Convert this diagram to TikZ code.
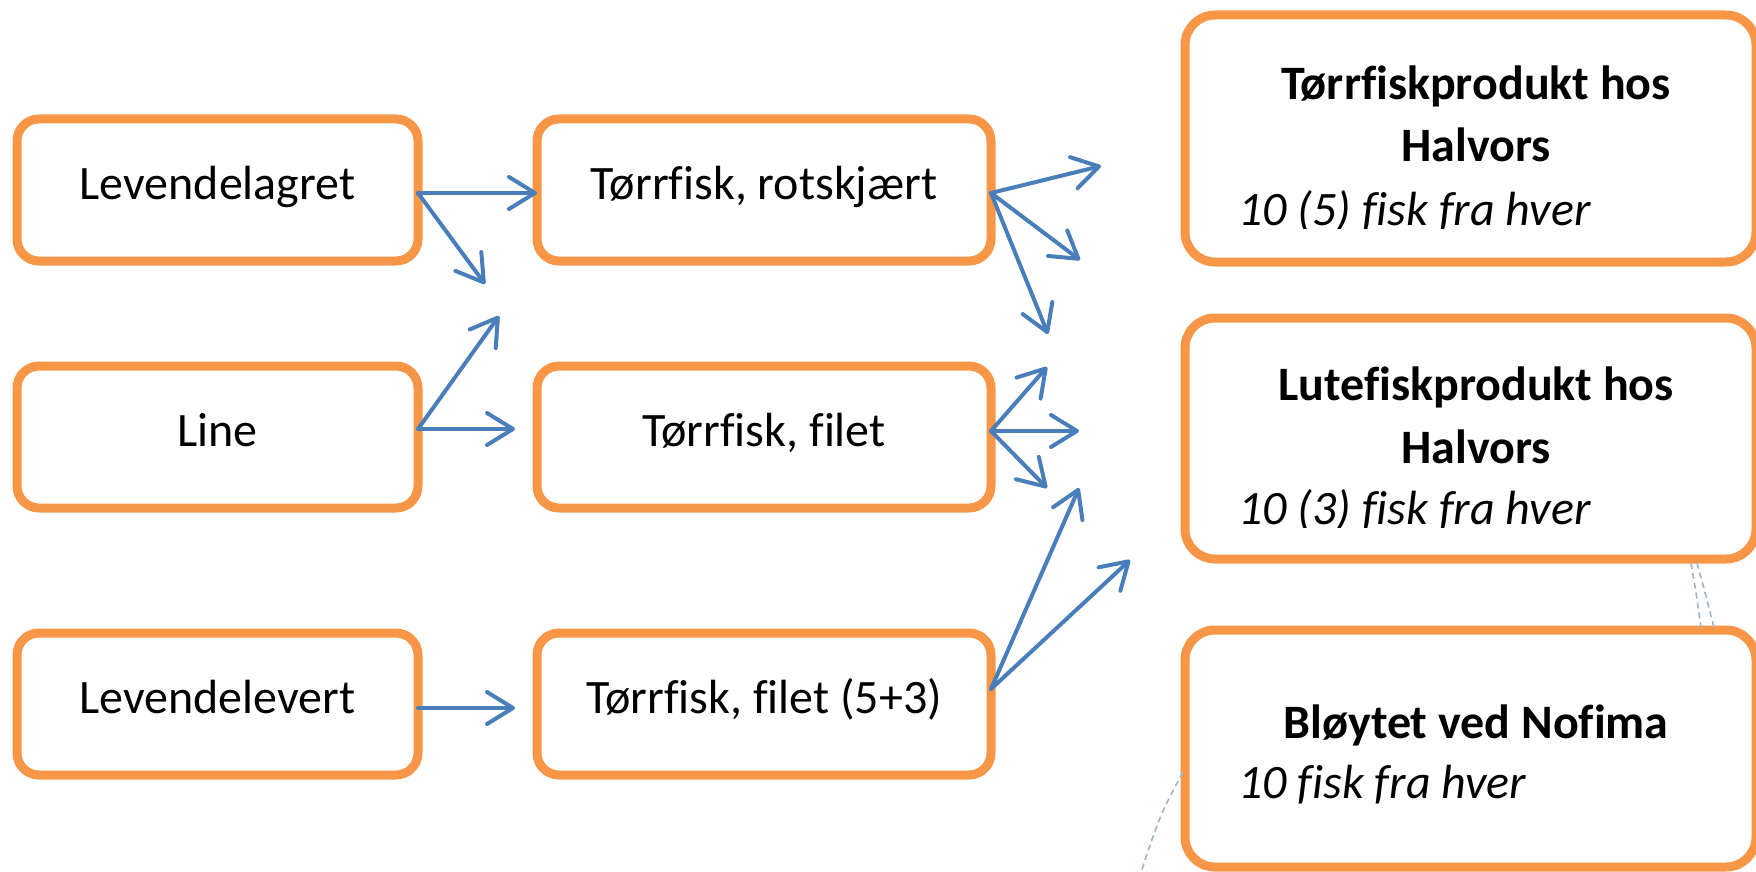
\documentclass[tikz,border=0pt]{standalone}
\usepackage{fontspec}
\setmainfont{Carlito}[Ligatures=NoCommon]
\usepackage{tikz}
\usetikzlibrary{arrows.meta}
\definecolor{boxorange}{HTML}{F79646}
\definecolor{arrblue}{HTML}{4A7EBB}
\definecolor{ghostgrey}{HTML}{9DB3C6}

\begin{document}
\begin{tikzpicture}[x=0.5pt,y=-0.5pt,line join=round,
  box/.style={draw=boxorange,fill=white,line width=4.5pt,rounded corners=11pt,outer sep=0pt,inner sep=0pt,font=\fontsize{24}{31}\selectfont},
  small/.style={box,text height=15pt,text depth=6pt,minimum width=200.5pt,minimum height=71pt},
  mid/.style={box,text height=15pt,text depth=6pt,minimum width=227pt,minimum height=71pt},
  big/.style={box,rounded corners=15pt,minimum width=285.5pt},
  head/.style={anchor=base,inner sep=0pt,font=\fontsize{24}{31}\selectfont\bfseries},
  note/.style={anchor=base west,inner sep=0pt,font=\fontsize{24}{31}\selectfont\itshape},
  arr/.style={draw=arrblue,line width=2pt,line cap=round,-{Straight Barb[length=13pt,width=16pt,round]}},
  ghost/.style={draw=ghostgrey,line width=0.8pt,dash pattern=on 3pt off 2pt},
  ]
\useasboundingbox (0,0) rectangle (1756,872);
%%
\node (lagret) at (217.5,190) [small] {Levendelagret};
  \node (line) at (217.5,437) [small] {Line};
  \node (levert) at (217.5,704) [small] {Levendelevert};
  \node (rot) at (764,190) [mid] {Tørrfisk, rotskjært};
  \node (filet) at (764,437) [mid] {Tørrfisk, filet};
  \node (filet53) at (764,704) [mid] {Tørrfisk, filet (5+3)};
%
  \node (torr) at (1470.5,138.5) [big,minimum height=123.5pt] {};
  \node (lute) at (1470.5,438.5) [big,minimum height=120.5pt] {};
  \node (bloyt) at (1470.5,748.5) [big,minimum height=118.5pt] {};
  \node (torr1) at (1476,100) [head] {Tørrfiskprodukt hos};
  \node (torr2) at (1476,162) [head] {Halvors};
  \node (lute1) at (1476,400) [head] {Lutefiskprodukt hos};
  \node (lute2) at (1476,463) [head] {Halvors};
  \node (bloyt1) at (1476,738) [head] {Bløytet ved Nofima};
  \node (bloyt2) at (1238,798) [note] {10 fisk fra hver};
  \begin{scope}
    \clip (1185,15) rectangle (1756,228);
    \node (torr3) at (1238,225) [note] {10 (5) fisk fra hver};
  \end{scope}
  \begin{scope}
    \clip (1185,318) rectangle (1756,527);
    \node (lute3) at (1238,524) [note] {10 (3) fisk fra hver};
  \end{scope}
%
  \coordinate (e1) at (485,284);
  \coordinate (e2) at (499,316);
  \coordinate (e3) at (515,429);
  \coordinate (e4) at (515,708);
  \coordinate (e5) at (1101,166);
  \coordinate (e6) at (1080,260);
  \coordinate (e7) at (1048,334);
  \coordinate (e8) at (1047,367);
  \coordinate (e9) at (1079,431);
  \coordinate (e10) at (1047,488);
  \coordinate (e11) at (1079,488);
  \coordinate (e12) at (1130,560);
  \draw [arr] ([yshift=-1.5pt]lagret.east) -- ([yshift=-1.5pt]rot.west);
  \draw [arr] ([yshift=-1.5pt]lagret.east) -- (e1);
  \draw [arr] ([yshift=4pt]line.east) -- (e2);
  \draw [arr] ([yshift=4pt]line.east) -- (e3);
  \draw [arr] ([yshift=-2pt]levert.east) -- (e4);
  \draw [arr] ([yshift=-1.5pt]rot.east) -- (e5);
  \draw [arr] ([yshift=-1.5pt]rot.east) -- (e6);
  \draw [arr] ([yshift=-1.5pt]rot.east) -- (e7);
  \draw [arr] ([yshift=3pt]filet.east) -- (e8);
  \draw [arr] ([yshift=3pt]filet.east) -- (e9);
  \draw [arr] ([yshift=3pt]filet.east) -- (e10);
  \draw [arr] ([yshift=7.5pt]filet53.east) -- (e11);
  \draw [arr] ([yshift=7.5pt]filet53.east) -- (e12);
%
  \draw [ghost] (1691,563) .. controls (1696,592) .. (1701,628);
  \draw [ghost] (1697,563) .. controls (1705,592) .. (1714,628);
  \draw [ghost] (1183,772) .. controls (1160,815) .. (1140,875);
%
\end{tikzpicture}
\end{document}
